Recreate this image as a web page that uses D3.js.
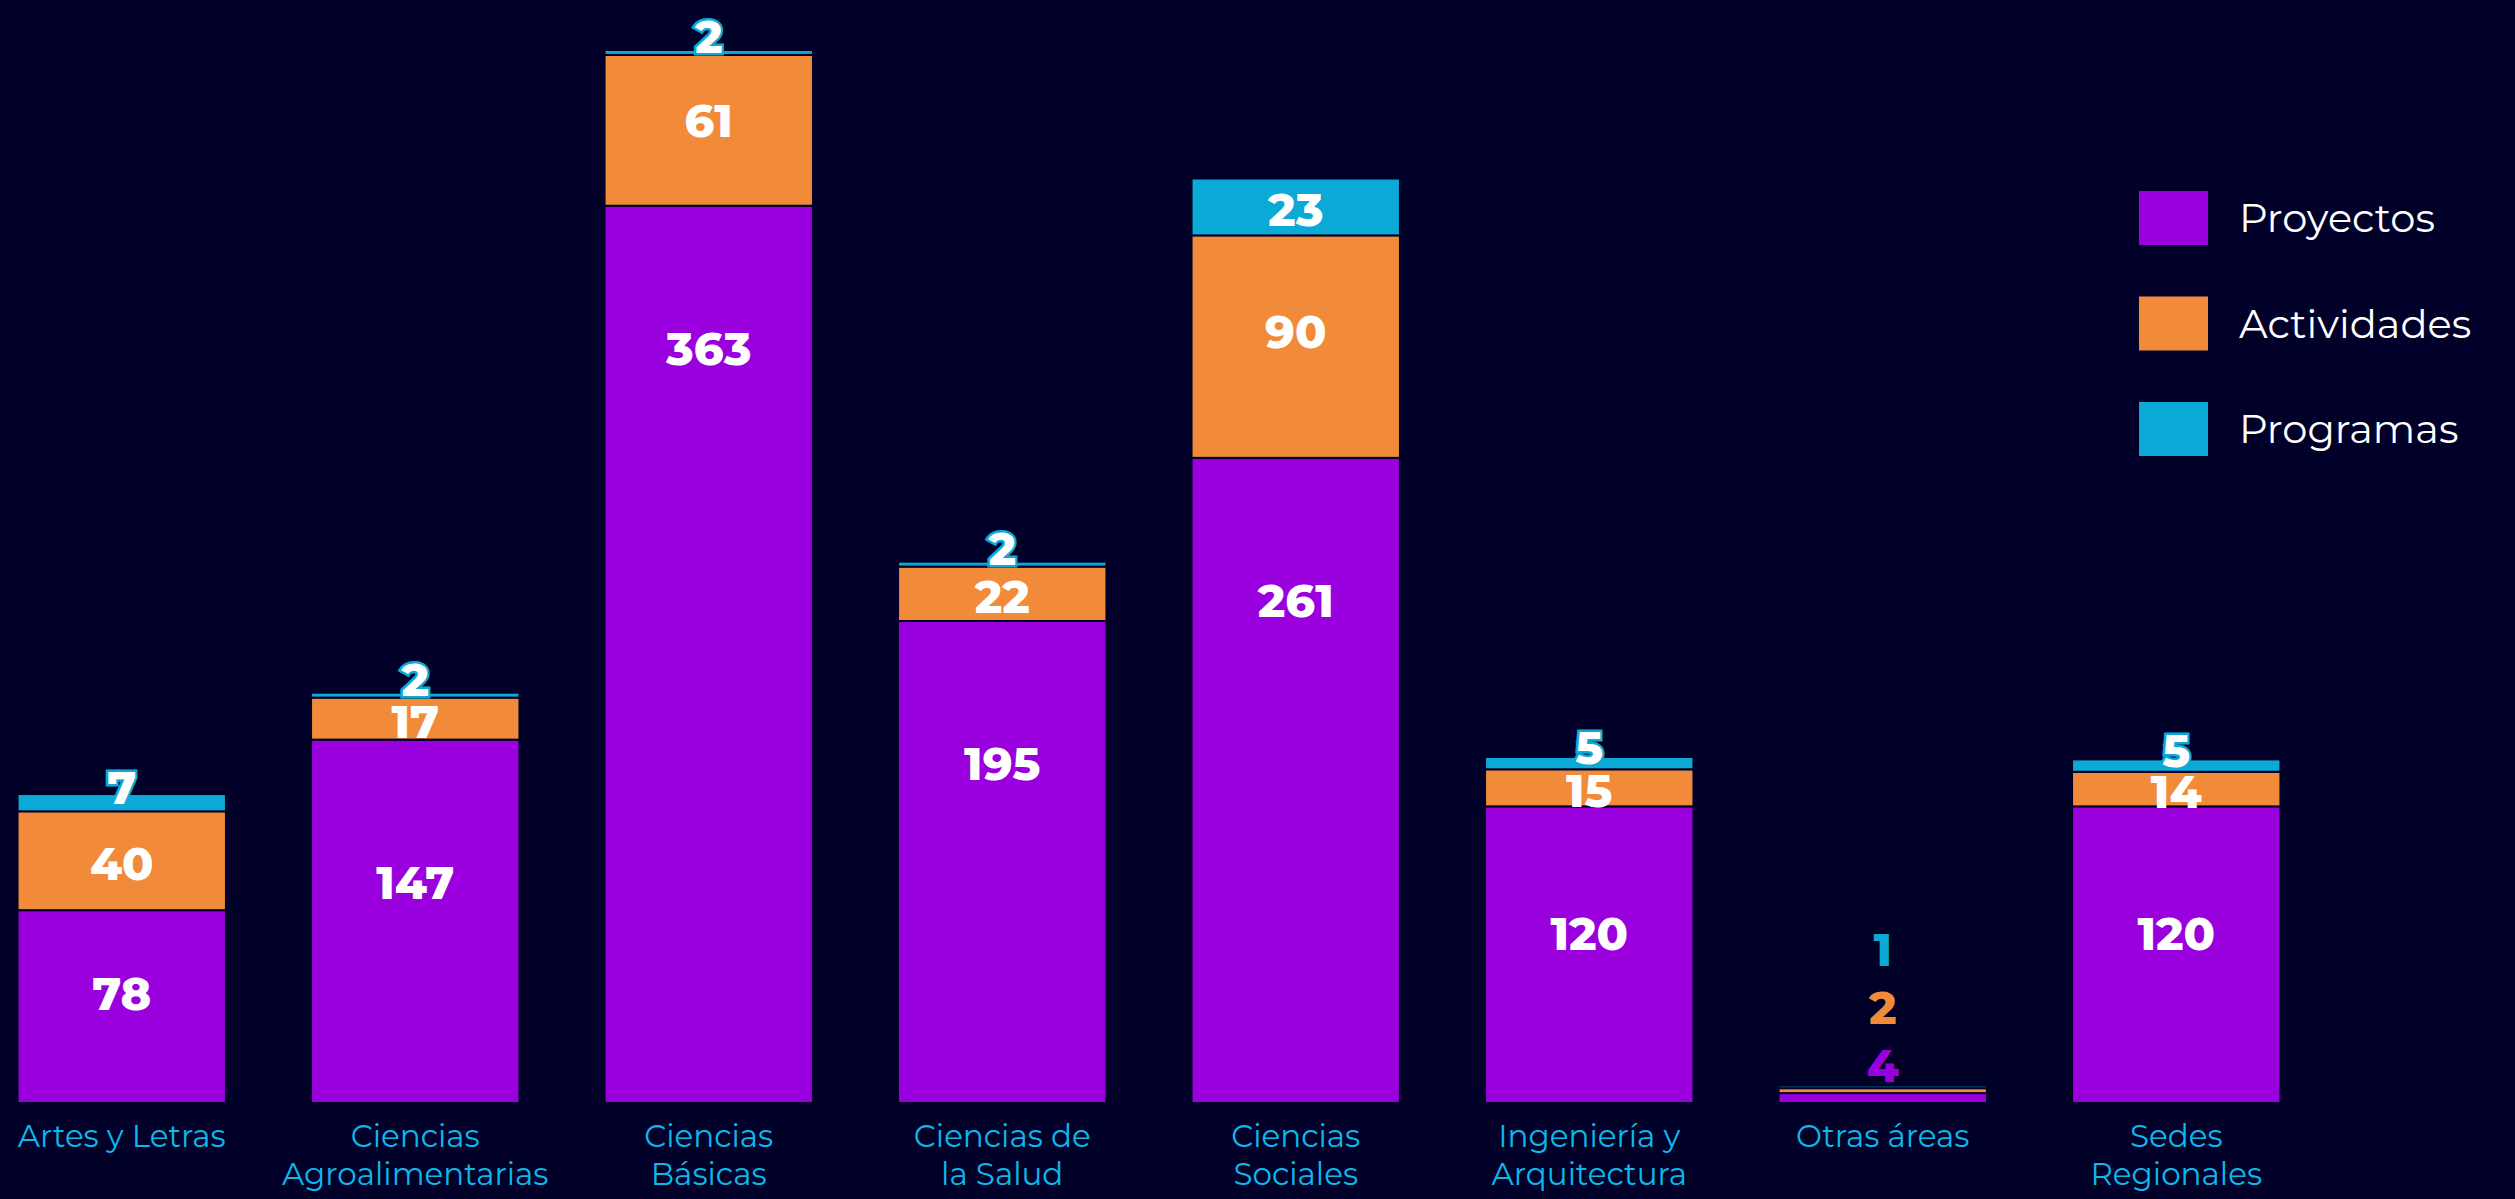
<!DOCTYPE html>
<html>
<head>
<meta charset="utf-8">
<script src="https://cdn.jsdelivr.net/npm/d3@7"></script>
<style>
  html, body { margin: 0; padding: 0; background: #000028; }
  svg { display: block; font-family: "Montserrat", "Inter", "Noto Sans", sans-serif; }
</style>
</head>
<body>
<div id="chart"></div>
<script>
// categories (line breaks as in the original axis labels)
var categories = [
    "Artes y Letras",
    "Ciencias|Agroalimentarias",
    "Ciencias|Básicas",
    "Ciencias de|la Salud",
    "Ciencias|Sociales",
    "Ingeniería y|Arquitectura",
    "Otras áreas",
    "Sedes|Regionales"
];
var seriesNames = ["Proyectos", "Actividades", "Programas"];
var proyectos   = [78, 147, 363, 195, 261, 120, 4, 120];
var actividades = [40, 17, 61, 22, 90, 15, 2, 14];
var programas   = [7, 2, 2, 2, 23, 5, 1, 5];
var colors = ["#9900dd", "#f18b3a", "#0aa9d6"];

var W = 2515, H = 1199;
var bg = "#000028";
var margin = { top: 50, bottom: 96, left: -25, right: 192 };

var rows = categories.map(function (c, i) {
    return { cat: c, Proyectos: proyectos[i], Actividades: actividades[i], Programas: programas[i] };
});

var stacked = d3.stack().keys(seriesNames)(rows);
var maxTotal = d3.max(rows, function (d) { return d.Proyectos + d.Actividades + d.Programas; });

var svg = d3.select("#chart").append("svg")
    .attr("width", W)
    .attr("height", H);

svg.append("rect").attr("width", W).attr("height", H).attr("fill", bg);

var x = d3.scaleBand()
    .domain(categories)
    .range([margin.left, W - margin.right])
    .paddingInner(0.29)
    .paddingOuter(0.145);

var y = d3.scaleLinear()
    .domain([0, maxTotal])
    .range([H - margin.bottom, margin.top]);

// bars
var layers = svg.append("g").selectAll("g")
    .data(stacked)
    .join("g")
    .attr("fill", function (d, i) { return colors[i]; });

layers.selectAll("rect")
    .data(function (d) { return d; })
    .join("rect")
    .attr("x", function (d) { return x(d.data.cat); })
    .attr("width", x.bandwidth())
    .attr("y", function (d) { return y(d[1]); })
    .attr("height", function (d) { return y(d[0]) - y(d[1]); })
    .attr("stroke", bg)
    .attr("stroke-width", 2);

// value labels
var labels = svg.append("g").attr("font-weight", 800).attr("font-size", 46).attr("text-anchor", "middle");

stacked.forEach(function (layer, si) {
    layer.forEach(function (d) {
        var total = d.data.Proyectos + d.data.Actividades + d.data.Programas;
        var cx = x(d.data.cat) + x.bandwidth() / 2;
        var top = y(d[1]), bot = y(d[0]), h = bot - top;
        var v = d[1] - d[0];
        if (total < 20) {
            // tiny bar: labels stacked above in series colours
            labels.append("text")
                .attr("x", cx)
                .attr("y", y(total) - 4 - si * 58)
                .attr("fill", colors[si])
                .text(v);
        } else if (h < 30) {
            labels.append("text")
                .attr("x", cx)
                .attr("y", (top + bot) / 2 + 1)
                .attr("fill", "#fff")
                .attr("stroke", colors[si])
                .attr("stroke-width", 5)
                .attr("paint-order", "stroke")
                .text(v);
        } else {
            var off = h < 120 ? h / 2 : Math.min(h * 0.42, 140);
            labels.append("text")
                .attr("x", cx)
                .attr("y", top + off + 3)
                .attr("dy", "0.35em")
                .attr("fill", "#fff")
                .text(v);
        }
    });
});

// x axis labels
var xLab = svg.append("g").attr("font-size", 31).attr("fill", "#0db8ea").attr("text-anchor", "middle");
categories.forEach(function (c) {
    var lines = c.split("|");
    var t = xLab.append("text").attr("x", x(c) + x.bandwidth() / 2).attr("y", H - margin.bottom + 44);
    lines.forEach(function (l, i) {
        t.append("tspan").attr("x", x(c) + x.bandwidth() / 2).attr("dy", i === 0 ? 0 : 38).text(l);
    });
});

// legend
var legend = svg.append("g").attr("transform", "translate(2139,191)");
seriesNames.forEach(function (s, i) {
    var g = legend.append("g").attr("transform", "translate(0," + (i * 105.5) + ")");
    g.append("rect").attr("width", 69).attr("height", 54).attr("fill", colors[i]);
    g.append("text")
        .attr("x", 100)
        .attr("y", 27)
        .attr("dy", "0.35em")
        .attr("font-size", 40)
        .attr("fill", "#fff")
        .text(s);
});
</script>
</body>
</html>
